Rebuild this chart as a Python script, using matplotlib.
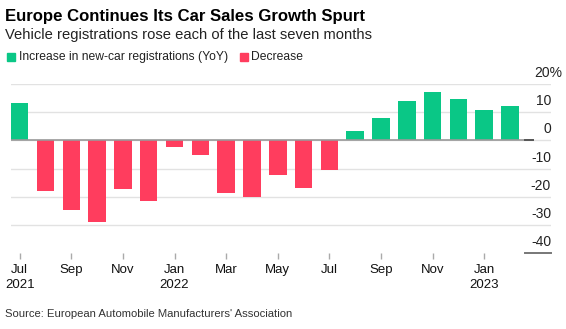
import matplotlib.pyplot as plt
import matplotlib.transforms as mtransforms
import numpy as np

plt.rcParams["font.family"] = ["Liberation Sans", "DejaVu Sans"]

# данные: изменение регистраций новых авто, % г/г
months = ["Jul", "Aug", "Sep", "Oct", "Nov", "Dec",
          "Jan", "Feb", "Mar", "Apr", "May", "Jun",
          "Jul", "Aug", "Sep", "Oct", "Nov", "Dec",
          "Jan", "Feb"]
values = [13.3, -18.1, -24.9, -29.1, -17.4, -21.5,
          -2.4, -5.2, -18.7, -20.0, -12.4, -16.8,
          -10.5, 3.3, 8.0, 14.0, 17.4, 14.9,
          10.9, 12.1]
tick_labels = ["Jul\n2021", "Sep", "Nov", "Jan\n2022", "Mar", "May",
               "Jul", "Sep", "Nov", "Jan\n2023"]
y_ticks = [20, 10, 0, -10, -20, -30, -40]

GREEN = "#0ac786"
RED = "#ff3d5e"

W, H = 566, 329
fig = plt.figure(figsize=(W / 100, H / 100), dpi=100)

# оси в пикселях
left, right, top, bottom = 11, 551, 84.3, 252.7
ax = fig.add_axes([left / W, 1 - bottom / H, (right - left) / W, (bottom - top) / H])

x = np.arange(len(values))
colors = [GREEN if v >= 0 else RED for v in values]

x_min, x_max = -0.337, 20.59
ax.set_xlim(x_min, x_max)
ax.set_ylim(-40, 20)

# сетка
for yt in [20, 10, 0, -10, -20, -30]:
    ax.axhline(yt, color="#e2e2e2", lw=1, zorder=0)

ax.bar(x, values, width=0.68, color=colors, zorder=2)

# нулевая линия
zero_end = 19 + (533 - 510) / 25.8
ax.plot([x_min, zero_end], [0, 0], color="#999999", lw=1.2, zorder=3)
seg_start = 19 + (525 - 510) / 25.8
ax.plot([seg_start, zero_end], [0, 0], color="#555555", lw=1.4, zorder=3)
ax.plot([seg_start, x_max], [-40, -40], color="#777777", lw=1.4, zorder=3,
        clip_on=False)

# подписи оси Y справа
trans = mtransforms.blended_transform_factory(ax.transAxes, ax.transData)
offset = mtransforms.ScaledTranslation(0, 4 / 100, fig.dpi_scale_trans)
for yt in y_ticks:
    label = f"{yt}%" if yt == 20 else f"{yt}"
    xpos = 1.0 + (11 / (right - left) if yt == 20 else 0)
    ax.text(xpos, yt, label, transform=trans + offset, ha="right", va="bottom",
            fontsize=10, color="#222222")

# ось X
tick_pos = np.arange(0, len(values), 2)
ax.set_xticks(tick_pos)
ax.set_xticklabels(tick_labels, fontsize=9.5, color="#111111", linespacing=1.3)
ax.tick_params(axis="x", length=4, width=1, color="#aaaaaa", pad=4)
ax.set_yticks([])
for s in ax.spines.values():
    s.set_visible(False)

# заголовки
fig.text(5 / W, 1 - 16 / H, "Europe Continues Its Car Sales Growth Spurt",
         fontsize=12.1, fontweight="bold", va="center", ha="left")
fig.text(5 / W, 1 - 35 / H, "Vehicle registrations rose each of the last seven months",
         fontsize=10.6, va="center", ha="left", color="#222222")

# легенда
fig.patches.append(plt.Rectangle((7 / W, 1 - 61 / H), 8 / W, 8 / H,
                                 transform=fig.transFigure, color=GREEN))
fig.text(19 / W, 1 - 57 / H, "Increase in new-car registrations (YoY)",
         fontsize=8.7, va="center", ha="left", color="#222222")
fig.patches.append(plt.Rectangle((240 / W, 1 - 61 / H), 8 / W, 8 / H,
                                 transform=fig.transFigure, color=RED))
fig.text(251 / W, 1 - 57 / H, "Decrease",
         fontsize=8.7, va="center", ha="left", color="#222222")

# источник
fig.text(5 / W, 1 - 314 / H, "Source: European Automobile Manufacturers' Association",
         fontsize=8.15, va="center", ha="left", color="#333333")

fig.savefig("out.png", dpi=100)
plt.close(fig)
